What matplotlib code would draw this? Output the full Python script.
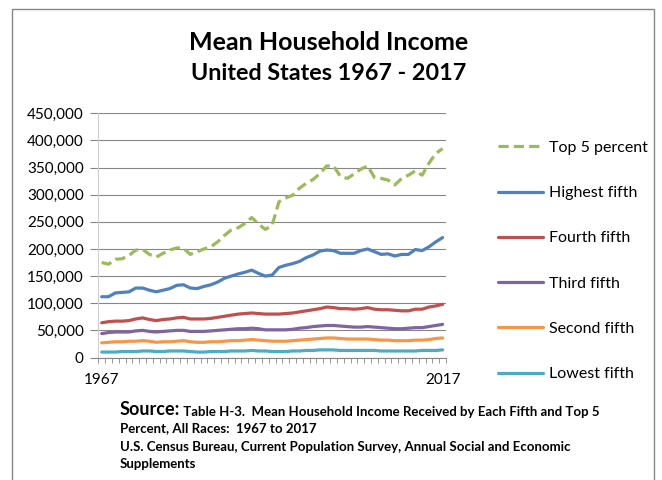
"""
Mean household income by quintile, United States 1967 - 2017.
"""
import matplotlib
matplotlib.use('Agg')
import matplotlib.pyplot as plt
from matplotlib.patches import Rectangle
from matplotlib.ticker import FuncFormatter

plt.rcParams['font.family'] = ['Lato', 'DejaVu Sans']

years = list(range(1967, 2018))

# values in dollars (thousands)
top5 = [175, 172, 181, 182, 188, 198, 199, 190, 185, 192,
        198, 202, 201, 190, 195, 200, 204, 213, 225, 235,
        239, 247, 258, 246, 236, 244, 287, 294, 299, 312,
        321, 328, 339, 353, 353, 334, 330, 338, 347, 353,
        332, 330, 327, 318, 330, 336, 344, 336, 358, 376, 385]
highest = [112, 112, 119, 120, 121, 128, 128, 124, 121, 124,
           127, 133, 134, 128, 127, 131, 134, 139, 146, 150,
           154, 157, 161, 155, 150, 152, 166, 170, 173, 177,
           184, 189, 196, 198, 197, 192, 192, 192, 197, 200,
           195, 190, 191, 187, 190, 190, 199, 197, 204, 213, 221]
fourth = [64, 66, 67, 67, 68, 71, 73, 70, 68, 70,
          71, 73, 74, 71, 71, 71, 72, 74, 76, 78,
          80, 81, 82, 81, 80, 80, 80, 81, 82, 84,
          86, 88, 90, 93, 92, 90, 90, 89, 90, 92,
          89, 88, 88, 87, 86, 86, 89, 89, 93, 95, 98]
third = [44, 46, 47, 47, 47, 49, 50, 48, 47, 48,
         49, 50, 50, 48, 48, 48, 49, 50, 51, 52,
         53, 53, 54, 53, 51, 51, 51, 51, 52, 54,
         55, 57, 58, 59, 59, 58, 57, 56, 56, 57,
         56, 55, 54, 53, 53, 54, 55, 55, 57, 59, 61]
second = [27, 28, 29, 29, 30, 30, 31, 30, 28, 29,
          29, 30, 31, 29, 28, 28, 29, 29, 30, 31,
          31, 32, 33, 32, 31, 30, 30, 30, 31, 32,
          33, 34, 35, 36, 36, 35, 34, 34, 34, 34,
          33, 32, 32, 31, 31, 31, 32, 32, 33, 35, 36]
lowest = [10, 10, 10, 11, 11, 11, 12, 12, 11, 11,
          12, 12, 12, 11, 10, 10, 11, 11, 11, 12,
          12, 12, 13, 12, 12, 11, 11, 11, 12, 12,
          13, 13, 14, 14, 14, 13, 13, 13, 13, 13,
          13, 12, 12, 12, 12, 12, 12, 13, 13, 13, 14]

series = [
    ('Top 5 percent', top5, '#9BBB59', True),
    ('Highest fifth', highest, '#4F81BD', False),
    ('Fourth fifth', fourth, '#C0504D', False),
    ('Third fifth', third, '#8064A2', False),
    ('Second fifth', second, '#F79646', False),
    ('Lowest fifth', lowest, '#4BACC6', False),
]

W, H = 662, 480
fig = plt.figure(figsize=(W / 100, H / 100), dpi=100)

# plot area in pixels
x0, x1, ytop, ybot = 98.3, 446, 113.3, 357.5
ax = fig.add_axes([x0 / W, 1 - ybot / H, (x1 - x0) / W, (ybot - ytop) / H])

handles = []
for name, vals, color, dashed in series:
    line, = ax.plot(years, [v * 1000 for v in vals], color=color, lw=2.3,
                    label=name, solid_capstyle='round')
    if dashed:
        line.set_dashes((3.2, 1.6))
    handles.append(line)

ax.set_xlim(1966.5, 2017.5)
ax.set_ylim(0, 450000)
ax.set_yticks(range(0, 450001, 50000))
ax.yaxis.set_major_formatter(FuncFormatter(lambda v, p: f'{int(v):,}'))
ax.set_xticks([1967, 2017])
ax.set_xticks([1966.5 + k for k in range(52)], minor=True)

ax.grid(axis='y', color='#868686', lw=0.8)
ax.set_axisbelow(True)
for s in ['top', 'right']:
    ax.spines[s].set_visible(False)
ax.spines['left'].set_color('#d0d0d0')
ax.spines['bottom'].set_color('#868686')
ax.tick_params(axis='y', length=5.5, color='#868686', labelsize=11, pad=5)
ax.tick_params(axis='x', which='major', length=0, labelsize=11, pad=11)
ax.tick_params(axis='x', which='minor', length=3.5, color='#868686')

fig.legend(handles=handles, loc='center left',
           bbox_to_anchor=(498 / W, 1 - 261 / H), frameon=False,
           fontsize=11.5, labelspacing=1.95, handlelength=2.8,
           handletextpad=0.4, borderpad=0, borderaxespad=0)

fig.text(329 / W, 1 - 42 / H, 'Mean Household Income', ha='center',
         va='center', fontsize=18, fontweight='bold')
fig.text(329 / W, 1 - 73 / H, 'United States 1967 - 2017', ha='center',
         va='center', fontsize=16.8, fontweight='bold')

# source notes
src = fig.text(120 / W, 1 - 415 / H, 'Source:', fontsize=13,
               fontweight='bold', va='baseline')
plt.annotate(' Table H-3.  Mean Household Income Received by Each Fifth and Top 5',
             xy=(1, 0), xycoords=src, va='bottom', fontsize=9.5,
             fontweight='bold', annotation_clip=False)
fig.text(120 / W, 1 - 432 / H, 'Percent, All Races:  1967 to 2017',
         fontsize=9.5, fontweight='bold', va='baseline')
fig.text(120 / W, 1 - 451 / H,
         'U.S. Census Bureau, Current Population Survey, Annual Social and Economic',
         fontsize=9.5, fontweight='bold', va='baseline')
fig.text(120 / W, 1 - 468 / H, 'Supplements', fontsize=9.5,
         fontweight='bold', va='baseline')

# chart frame (runs off the bottom edge)
fig.add_artist(Rectangle((12 / W, -0.1), (654 - 12) / W, 1.1 - 9 / H,
                         transform=fig.transFigure, fill=False,
                         edgecolor='#868686', lw=1))

fig.savefig('out.png', dpi=100)
